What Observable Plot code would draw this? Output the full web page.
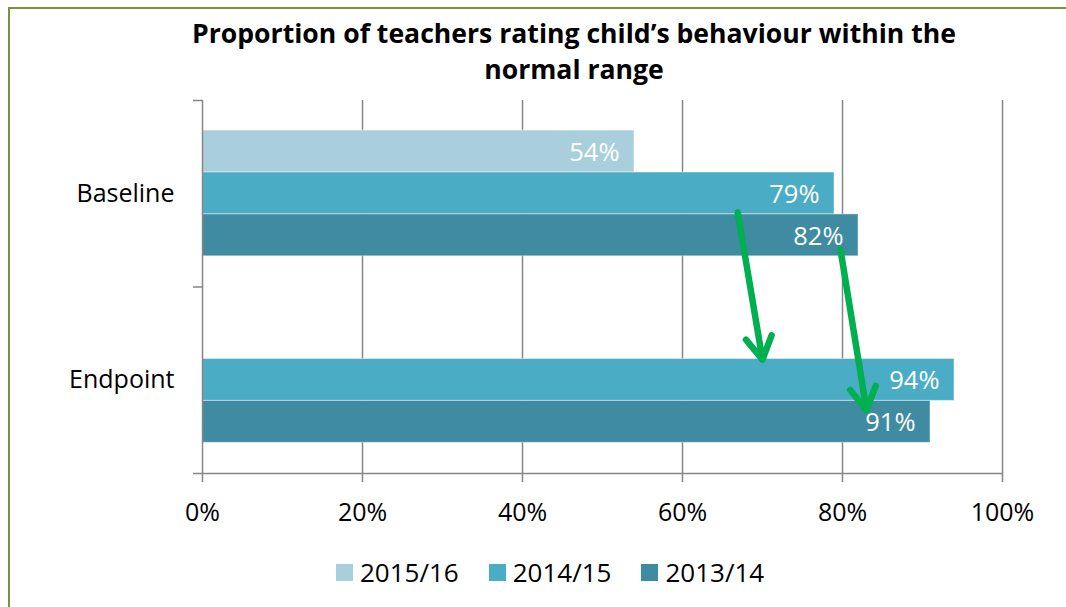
<!DOCTYPE html>
<html><head><meta charset="utf-8">
<script src="https://cdn.jsdelivr.net/npm/d3@7"></script>
<script src="https://cdn.jsdelivr.net/npm/@observablehq/plot@0.6"></script>
<style>
html,body{margin:0;padding:0;background:#fff;overflow:hidden;}
#wrap{position:relative;width:1066px;height:607px;overflow:hidden;font-family:"Open Sans",sans-serif;color:#000;}
#frame{position:absolute;left:8px;top:7px;width:1200px;height:800px;border-left:2px solid #77933C;border-top:2px solid #77933C;pointer-events:none;}
#title{width:1148px;height:88px;box-sizing:border-box;padding-top:15px;text-align:center;font-weight:700;font-size:26.6px;line-height:36px;}
#chart svg{display:block;}
#legend{height:70px;display:flex;align-items:center;padding-left:336px;box-sizing:border-box;font-size:26px;}
.item{display:flex;align-items:center;margin-right:30px;}
.sw{width:17px;height:17px;margin-right:7px;}
</style>
</head><body>
<div id="wrap">
  <div id="title">Proportion of teachers rating child’s behaviour within the<br>normal range</div>
  <div id="chart"></div>
  <div id="legend"></div>
  <div id="frame"></div>
</div>
<script>
const categories = ["Baseline", "Endpoint"];
const seriesNames = ["2015/16", "2014/15", "2013/14"];
const seriesColors = ["#A9CFDC", "#4BACC6", "#3E8BA2"];
const baselineValues = [54, 79, 82];
const endpointValues = [null, 94, 91];
const xTicks = [0, 20, 40, 60, 80, 100];
// annotation arrows: x in %, y in category units (0 = top of Baseline band, 2 = bottom of Endpoint band)
const arrowsData = [
  {x1: 66.9, y1: 0.60, x2: 70.0, y2: 1.39},
  {x1: 79.75, y1: 0.80, x2: 83.0, y2: 1.66}
];

const valuesByCategory = [baselineValues, endpointValues];
const rows = [];
categories.forEach((cat, g) => {
  seriesNames.forEach((s, i) => {
    const v = valuesByCategory[g][i];
    if (v != null) rows.push({cat, g, series: s, i, value: v});
  });
});

// band layout within each category (fractions of a category band)
const pad = 30 / 186, bw = 41.8 / 186;
const y1 = d => d.g + pad + d.i * bw;
const y2 = d => d.g + pad + (d.i + 1) * bw;
const ym = d => d.g + pad + (d.i + 0.5) * bw;

const gray = "#868686";
const fmt = d => d + "%";

const chart = Plot.plot({
  width: 1066,
  height: 449,
  marginTop: 12,
  marginBottom: 64,
  marginLeft: 202,
  marginRight: 64,
  style: {fontFamily: "'Open Sans', sans-serif", fontSize: "25px", color: "#000", background: "#fff"},
  x: {domain: [0, 100], axis: null},
  y: {domain: [0, 2], reverse: true, axis: null},
  color: {domain: seriesNames, range: seriesColors},
  marks: [
    Plot.ruleX(xTicks.slice(1), {stroke: gray, strokeWidth: 1.5}),
    Plot.rectX(rows, {x1: 0, x2: "value", y1, y2, fill: "series", stroke: "white", strokeOpacity: 0.45, strokeWidth: 1}),
    Plot.ruleX([0], {stroke: gray, strokeWidth: 1.5}),
    Plot.ruleY([2], {stroke: gray, strokeWidth: 1.5}),
    Plot.axisY([0, 1, 2], {tickSize: 9, tickFormat: () => "", stroke: gray, strokeWidth: 1.5, label: null}),
    Plot.axisY([0.5, 1.5], {tickSize: 0, tickPadding: 28, tickFormat: d => categories[Math.floor(d)], fill: "#000", fontSize: 25, label: null}),
    Plot.axisX(xTicks, {tickSize: 9, tickPadding: 21, tickFormat: fmt, stroke: gray, strokeWidth: 1.5, fill: "#000", fontSize: 25, label: null}),
    Plot.text(rows, {x: "value", y: ym, text: d => fmt(d.value), dx: -15, dy: 1, textAnchor: "end", fill: "white", fontSize: 25.5}),
    Plot.arrow(arrowsData, {x1: "x1", y1: "y1", x2: "x2", y2: "y2", stroke: "#00B050", strokeWidth: 6.5, headLength: 6, headAngle: 60, strokeLinecap: "round", strokeLinejoin: "round"})
  ]
});
document.getElementById("chart").appendChild(chart);

const legend = document.getElementById("legend");
seriesNames.forEach((s, i) => {
  const item = document.createElement("div");
  item.className = "item";
  const sw = document.createElement("div");
  sw.className = "sw";
  sw.style.background = seriesColors[i];
  const t = document.createElement("span");
  t.textContent = s;
  item.appendChild(sw);
  item.appendChild(t);
  legend.appendChild(item);
});
</script>
</body></html>
